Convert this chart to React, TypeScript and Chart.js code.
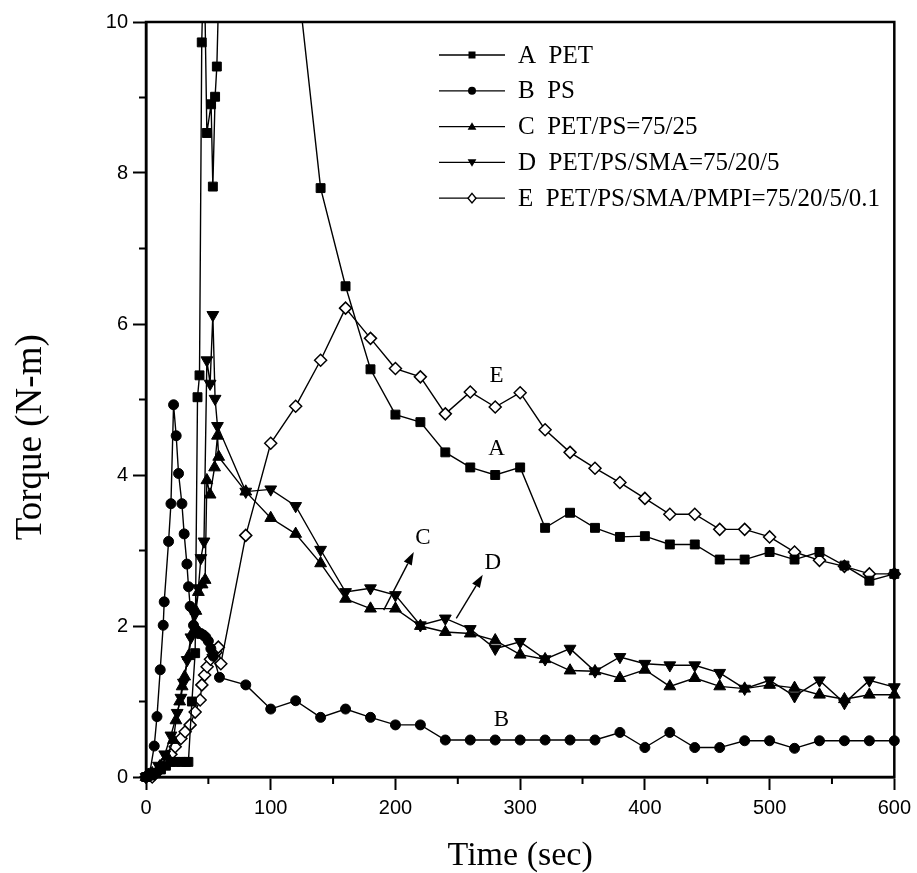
import React, { useEffect, useRef } from 'react';
import { Chart, registerables } from 'chart.js';

Chart.register(...registerables);

// ---------- data ----------
const timeA = [0, 4, 8, 12, 16, 20, 24, 28, 32, 34, 36.8, 39.4, 41.3, 42.9, 44.7, 46.5, 48.8, 52.2, 53.6, 55.4, 56.8, 60, 80, 100, 120, 140,
  160, 180, 200, 220, 240, 260, 280, 300, 320, 340, 360, 380, 400, 420, 440, 460, 480, 500, 520, 540, 560, 580, 600];
const torqueA = [0, 0.02, 0.05, 0.1, 0.15, 0.2, 0.2, 0.2, 0.2, 0.2, 1.0, 1.64, 5.03, 5.32, 9.73, 11, 8.53, 8.91, 7.82, 9.01, 9.41, 11.5, 14, 12.5, 10.8, 7.8,
  6.5, 5.4, 4.8, 4.7, 4.3, 4.1, 4.0, 4.1, 3.3, 3.5, 3.3, 3.18, 3.19, 3.08, 3.08, 2.88, 2.88, 2.98, 2.88, 2.98, 2.8, 2.6, 2.69];

const timeB = [0, 3, 6.6, 8.8, 11.4, 13.8, 14.6, 18.1, 20, 22.1, 24.2, 26.1, 28.8, 30.6, 32.8, 34.1, 35.4, 38.1, 40, 42, 44, 46, 48, 50, 52, 54, 58.9,
  80, 100, 120, 140, 160, 180, 200, 220, 240, 260, 280, 300, 320, 340, 360, 380, 400, 420, 440, 460, 480, 500, 520, 540, 560, 580, 600];
const torqueB = [0, 0.05, 0.41, 0.8, 1.42, 2.01, 2.32, 3.12, 3.62, 4.93, 4.52, 4.02, 3.62, 3.22, 2.82, 2.52, 2.26, 2.01, 1.95, 1.9, 1.9, 1.88, 1.85, 1.8, 1.7, 1.6, 1.32,
  1.22, 0.9, 1.01, 0.79, 0.9, 0.79, 0.69, 0.69, 0.49, 0.49, 0.49, 0.49, 0.49, 0.49, 0.49, 0.59, 0.39, 0.59, 0.39, 0.39, 0.48, 0.48, 0.38, 0.48, 0.48, 0.48, 0.48];

const timeC = [0, 5, 11, 17, 22, 24, 27, 29, 31, 34, 37, 40, 42, 45, 47.4, 48.8, 51.4, 55, 57.3, 58.3,
  80, 100, 120, 140, 160, 180, 200, 220, 240, 260, 280, 300, 320, 340, 360, 380, 400, 420, 440, 460, 480, 500, 520, 540, 560, 580, 600];
const torqueC = [0, 0.05, 0.14, 0.27, 0.49, 0.75, 1.0, 1.2, 1.33, 1.6, 1.9, 2.2, 2.45, 2.55, 2.61, 3.93, 3.74, 4.1, 4.52, 4.24,
  3.78, 3.43, 3.22, 2.83, 2.36, 2.23, 2.23, 2.0, 1.92, 1.9, 1.81, 1.62, 1.56, 1.41, 1.4, 1.31, 1.42, 1.2, 1.31, 1.2, 1.17, 1.22, 1.18, 1.09, 1.03, 1.09, 1.09];

const timeD = [0, 5, 10, 15, 20, 25, 28, 30, 33, 36, 39, 42, 44, 46.5, 48.8, 51.4, 53.6, 55.4, 57.3,
  80, 100, 120, 140, 160, 180, 200, 220, 240, 260, 280, 300, 320, 340, 360, 380, 400, 420, 440, 460, 480, 500, 520, 540, 560, 580, 600];
const torqueD = [0, 0.05, 0.15, 0.3, 0.55, 0.85, 1.05, 1.25, 1.55, 1.85, 2.15, 2.5, 2.9, 3.12, 5.52, 5.21, 6.12, 5.01, 4.65,
  3.78, 3.81, 3.59, 3.01, 2.45, 2.5, 2.41, 2.01, 2.1, 1.96, 1.7, 1.79, 1.56, 1.7, 1.4, 1.59, 1.5, 1.48, 1.48, 1.38, 1.17, 1.28, 1.07, 1.28, 0.98, 1.28, 1.19];

const timeE = [0, 5, 10, 15.4, 20, 23.4, 28, 31.4, 35.4, 39.4, 43.4, 44.8, 47, 49, 51.7, 54, 56, 58, 60,
  80, 100, 120, 140, 160, 180, 200, 220, 240, 260, 280, 300, 320, 340, 360, 380, 400, 420, 440, 460, 480, 500, 520, 540, 560, 580, 600];
const torqueE = [0, 0, 0.08, 0.2, 0.3, 0.4, 0.51, 0.6, 0.69, 0.86, 1.02, 1.22, 1.35, 1.46, 1.56, 1.62, 1.65, 1.72, 1.5,
  3.2, 4.42, 4.91, 5.52, 6.21, 5.81, 5.41, 5.3, 4.81, 5.1, 4.9, 5.09, 4.6, 4.3, 4.09, 3.9, 3.69, 3.48, 3.48, 3.28, 3.28, 3.18, 2.98, 2.87, 2.79, 2.69, 2.69];

const seriesLabels = ['A  PET', 'B  PS', 'C  PET/PS=75/25', 'D  PET/PS/SMA=75/20/5', 'E  PET/PS/SMA/PMPI=75/20/5/0.1'];

// curve tags written on the plot (data coordinates)
const tagText = ['E', 'A', 'C', 'D', 'B'];
const tagX = [281, 281, 222, 278, 285];
const tagY = [5.31, 4.34, 3.16, 2.83, 0.76];

// arrows pointing to curves C and D (data coordinates)
const arrowFromX = [190.6, 248.8];
const arrowFromY = [2.21, 2.1];
const arrowToX = [214.7, 270];
const arrowToY = [2.98, 2.68];

const xTitle = 'Time (sec)';
const yTitle = 'Torque (N-m)';

const SERIF = '"Liberation Serif", "Times New Roman", serif';
const SANS = '"Liberation Sans", Arial, sans-serif';

type Mk = 'rect' | 'circle' | 'triangle' | 'triangleDown' | 'diamond';
const markerKinds: Mk[] = ['rect', 'circle', 'triangle', 'triangleDown', 'diamond'];

function drawMarker(ctx: CanvasRenderingContext2D, kind: Mk, x: number, y: number, s: number) {
  ctx.beginPath();
  if (kind === 'rect') {
    ctx.rect(x - s, y - s, 2 * s, 2 * s);
    ctx.fillStyle = '#000';
    ctx.fill();
  } else if (kind === 'circle') {
    ctx.arc(x, y, s, 0, Math.PI * 2);
    ctx.fillStyle = '#000';
    ctx.fill();
  } else if (kind === 'triangle') {
    ctx.moveTo(x, y - s * 1.1);
    ctx.lineTo(x + s * 1.1, y + s * 0.8);
    ctx.lineTo(x - s * 1.1, y + s * 0.8);
    ctx.closePath();
    ctx.fillStyle = '#000';
    ctx.fill();
  } else if (kind === 'triangleDown') {
    ctx.moveTo(x, y + s * 1.1);
    ctx.lineTo(x + s * 1.1, y - s * 0.8);
    ctx.lineTo(x - s * 1.1, y - s * 0.8);
    ctx.closePath();
    ctx.fillStyle = '#000';
    ctx.fill();
  } else {
    ctx.moveTo(x, y - s * 1.2);
    ctx.lineTo(x + s, y);
    ctx.lineTo(x, y + s * 1.2);
    ctx.lineTo(x - s, y);
    ctx.closePath();
    ctx.fillStyle = '#fff';
    ctx.fill();
    ctx.lineWidth = 1.4;
    ctx.strokeStyle = '#000';
    ctx.stroke();
  }
}

const decorPlugin = {
  id: 'decor',
  afterDatasetsDraw(chart: any) {
    const { ctx, chartArea } = chart;
    const xs = chart.scales.x;
    const ys = chart.scales.y;
    ctx.save();
    // curve tags
    ctx.fillStyle = '#000';
    ctx.font = `23px ${SERIF}`;
    ctx.textAlign = 'center';
    ctx.textBaseline = 'middle';
    tagText.forEach((t, i) => {
      ctx.fillText(t, xs.getPixelForValue(tagX[i]), ys.getPixelForValue(tagY[i]));
    });
    // arrows
    ctx.strokeStyle = '#000';
    ctx.lineWidth = 1.4;
    arrowFromX.forEach((_, i) => {
      const x0 = xs.getPixelForValue(arrowFromX[i]);
      const y0 = ys.getPixelForValue(arrowFromY[i]);
      const x1 = xs.getPixelForValue(arrowToX[i]);
      const y1 = ys.getPixelForValue(arrowToY[i]);
      const ang = Math.atan2(y1 - y0, x1 - x0);
      const hl = 13, hw = 4.5;
      const bx = x1 - hl * Math.cos(ang);
      const by = y1 - hl * Math.sin(ang);
      ctx.beginPath();
      ctx.moveTo(x0, y0);
      ctx.lineTo(bx, by);
      ctx.stroke();
      ctx.beginPath();
      ctx.moveTo(x1, y1);
      ctx.lineTo(bx + hw * Math.sin(ang), by - hw * Math.cos(ang));
      ctx.lineTo(bx - hw * Math.sin(ang), by + hw * Math.cos(ang));
      ctx.closePath();
      ctx.fill();
    });
    // legend
    const lx0 = chartArea.left + 293;
    const lx1 = chartArea.left + 359;
    const tx = chartArea.left + 372;
    ctx.font = `25px ${SERIF}`;
    ctx.textAlign = 'left';
    seriesLabels.forEach((lab, i) => {
      const y = chartArea.top + 33 + i * 35.8;
      ctx.beginPath();
      ctx.lineWidth = 1.3;
      ctx.strokeStyle = '#000';
      ctx.moveTo(lx0, y);
      ctx.lineTo(lx1, y);
      ctx.stroke();
      drawMarker(ctx, markerKinds[i], (lx0 + lx1) / 2, y, i === 0 ? 3.5 : 4);
      ctx.fillStyle = '#000';
      ctx.fillText(lab, tx, y + 1);
    });
    ctx.restore();
  },
  afterDraw(chart: any) {
    const { ctx, chartArea } = chart;
    const xs = chart.scales.x;
    const ys = chart.scales.y;
    ctx.save();
    ctx.strokeStyle = '#000';
    ctx.lineWidth = 2.5;
    ctx.strokeRect(chartArea.left, chartArea.top, chartArea.right - chartArea.left, chartArea.bottom - chartArea.top);
    // minor ticks
    ctx.lineWidth = 2;
    ctx.beginPath();
    for (let v = 50; v < 600; v += 100) {
      const px = xs.getPixelForValue(v);
      ctx.moveTo(px, chartArea.bottom);
      ctx.lineTo(px, chartArea.bottom + 7);
    }
    for (let v = 1; v < 10; v += 2) {
      const py = ys.getPixelForValue(v);
      ctx.moveTo(chartArea.left, py);
      ctx.lineTo(chartArea.left - 7, py);
    }
    ctx.stroke();
    // y-axis title (placed slightly below the axis centre, as in the reference)
    ctx.translate(31, ys.getPixelForValue(4.5));
    ctx.rotate(-Math.PI / 2);
    ctx.fillStyle = '#000';
    ctx.font = `37px ${SERIF}`;
    ctx.textAlign = 'center';
    ctx.textBaseline = 'middle';
    ctx.fillText(yTitle, 0, 0);
    ctx.restore();
  },
};

export default function App() {
  const ref = useRef<HTMLCanvasElement>(null);
  useEffect(() => {
    document.body.style.margin = '0';
    const canvas = ref.current;
    if (!canvas) return;
    const mk = (t: number[], v: number[]) => t.map((x, i) => ({ x, y: v[i] }));
    const common = {
      borderColor: '#000',
      borderWidth: 1.4,
      tension: 0,
      pointBorderColor: '#000',
      pointBorderWidth: 1,
      pointBackgroundColor: '#000',
      clip: { left: 10, right: 10, top: 0, bottom: 10 },
    };
    const chart = new Chart(canvas, {
      type: 'line',
      data: {
        datasets: [
          { ...common, label: seriesLabels[0], data: mk(timeA, torqueA), pointStyle: 'rect', pointRadius: 6.3 },
          { ...common, label: seriesLabels[1], data: mk(timeB, torqueB), pointStyle: 'circle', pointRadius: 5 },
          { ...common, label: seriesLabels[2], data: mk(timeC, torqueC), pointStyle: 'triangle', pointRadius: 6.8 },
          { ...common, label: seriesLabels[3], data: mk(timeD, torqueD), pointStyle: 'triangle', pointRotation: 180, pointRadius: 6.8 },
          { ...common, label: seriesLabels[4], data: mk(timeE, torqueE), pointStyle: 'rectRot', pointRadius: 6, pointBackgroundColor: '#fff', pointBorderWidth: 1.5 },
        ] as any,
      },
      options: {
        animation: false,
        responsive: false,
        events: [],
        layout: { padding: { top: 22, right: 20, left: 0, bottom: 0 } },
        plugins: { legend: { display: false }, tooltip: { enabled: false } },
        scales: {
          x: {
            type: 'linear',
            min: 0,
            max: 600,
            ticks: { stepSize: 100, color: '#000', font: { family: SANS, size: 20 }, padding: 6 },
            grid: { display: true, drawOnChartArea: false, drawTicks: true, tickLength: 13, tickWidth: 2, tickColor: '#000' },
            border: { display: true, color: '#000', width: 2.5 },
            title: { display: true, text: xTitle, color: '#000', font: { family: SERIF, size: 34, lineHeight: 1 }, padding: 0 },
            afterFit: (s: any) => { s.height = 96; },
          },
          y: {
            type: 'linear',
            min: 0,
            max: 10,
            ticks: { stepSize: 2, color: '#000', font: { family: SANS, size: 20 }, padding: 5 },
            grid: { display: true, drawOnChartArea: false, drawTicks: true, tickLength: 13, tickWidth: 2, tickColor: '#000' },
            border: { display: true, color: '#000', width: 2.5 },
            title: { display: false, text: yTitle },
            afterFit: (s: any) => { s.width = 146; },
          },
        },
      } as any,
      plugins: [decorPlugin],
    });
    return () => chart.destroy();
  }, []);
  return <canvas ref={ref} width={917} height={873} style={{ display: 'block' }} />;
}
